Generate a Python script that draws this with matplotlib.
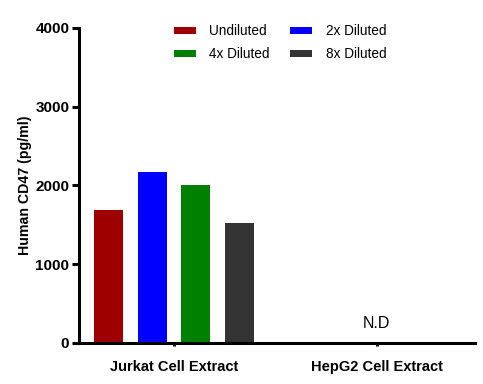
import numpy as np
import matplotlib.pyplot as plt

plt.rcParams['font.family'] = ['Liberation Sans', 'DejaVu Sans']

# data
groups = ['Jurkat Cell Extract', 'HepG2 Cell Extract']
series = ['Undiluted', '2x Diluted', '4x Diluted', '8x Diluted']
colors = ['#9e0000', '#0000ff', '#008000', '#333333']
jurkat_values = [1690, 2175, 2000, 1525]
hepg2_values = [0, 0, 0, 0]

fig = plt.figure(figsize=(4.83, 3.84), dpi=100)
ax = fig.add_axes([0.1636, 0.1068, 0.8194, 0.8203])

x = np.arange(len(groups))
width = 0.143
offsets = [-1.5, -0.5, 0.5, 1.5]
bars = []
for i, name in enumerate(series):
    vals = [jurkat_values[i], hepg2_values[i]]
    bars.append(ax.bar(x + offsets[i] * 0.215, vals, width, color=colors[i], label=name))

ax.text(1, 150, 'N.D', ha='center', va='bottom', fontsize=11.5)

ax.set_xlim(-0.468, 1.483)
ax.set_ylim(0, 4000)
ax.set_yticks([0, 1000, 2000, 3000, 4000])
ax.set_xticks(x)
ax.set_xticklabels(groups, fontweight='bold', fontsize=10.5)
for lbl in ax.get_yticklabels():
    lbl.set_fontweight('bold')
    lbl.set_fontsize(11)
ax.set_ylabel('Human CD47 (pg/ml)', fontweight='bold', fontsize=10.2)
ax.yaxis.set_label_coords(-0.12, 0.5)

for side in ['top', 'right']:
    ax.spines[side].set_visible(False)
for side in ['left', 'bottom']:
    ax.spines[side].set_linewidth(2.2)
ax.tick_params(axis='y', width=2.2, length=5, pad=2)
ax.tick_params(axis='x', width=2.2, length=2.5, pad=10)

# row-wise legend order
order = [0, 2, 1, 3]
ax.legend([bars[i] for i in order], [series[i] for i in order],
          ncol=2, frameon=False, fontsize=9.8, loc='upper center',
          bbox_to_anchor=(0.508, 1.05), handlelength=1.6, handleheight=0.45,
          columnspacing=1.5, labelspacing=0.65, handletextpad=1.0)

plt.savefig('out.png', dpi=100)
